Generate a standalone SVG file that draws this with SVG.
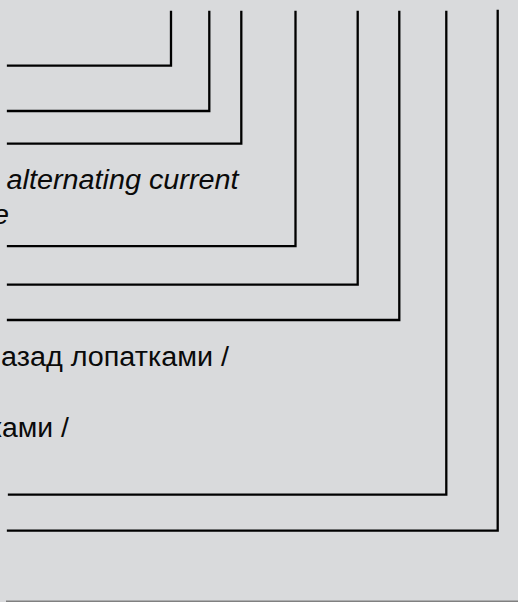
<svg xmlns="http://www.w3.org/2000/svg" width="518" height="602" viewBox="0 0 518 602">
<style>
.bg{fill:#d9dadc}
.lead{fill:none;stroke:#000;stroke-width:2.3;stroke-linejoin:miter;stroke-linecap:square}
.lbl{font-family:"Liberation Sans",Arial,sans-serif;font-size:27px;fill:#0a0a0a}
.it{font-style:italic}
.rule{stroke:#808080;stroke-width:1.5}
</style>
<rect class="bg" x="0" y="0" width="518" height="602"/>
<g id="connectors">
<polyline class="lead" points="171,12 171,65.7 8,65.7"/>
<polyline class="lead" points="209.3,12 209.3,111 8,111"/>
<polyline class="lead" points="241.3,12 241.3,143.7 8,143.7"/>
<polyline class="lead" points="295.5,12 295.5,246.2 8,246.2"/>
<polyline class="lead" points="357.7,12 357.7,284.7 8,284.7"/>
<polyline class="lead" points="399.3,12 399.3,320 8,320"/>
<polyline class="lead" points="446.3,12 446.3,494.7 9,494.7"/>
<polyline class="lead" points="497.7,11 497.7,530.7 8,530.7"/>
</g>
<g id="label-ac">
<text class="lbl it" x="6.5" y="189" textLength="232" lengthAdjust="spacingAndGlyphs">alternating current</text>
</g>
<g id="label-e">
<text class="lbl it" x="-7" y="224" textLength="16" lengthAdjust="spacingAndGlyphs">e</text>
</g>
<g id="label-nazad">
<text class="lbl" x="1" y="366" textLength="228" lengthAdjust="spacingAndGlyphs">азад лопатками /</text>
</g>
<g id="label-kami">
<text class="lbl" x="-11" y="437" textLength="80" lengthAdjust="spacingAndGlyphs">ками /</text>
</g>
<line class="rule" x1="6" y1="601.3" x2="518" y2="601.3"/>
</svg>
